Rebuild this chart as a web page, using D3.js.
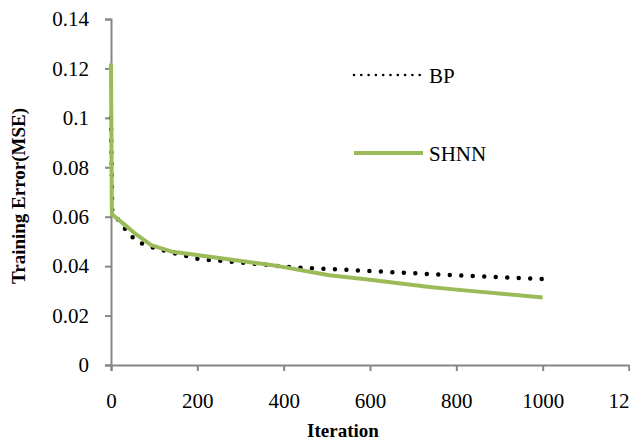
<!DOCTYPE html>
<html lang="en">
  <head>
    <meta charset="UTF-8" />
    <title>Training Error - BP vs SHNN</title>
    <script src="https://d3js.org/d3.v7.min.js"></script>
    <style>
      body { margin: 0; background: #fff; }
      svg text { font-family: "Liberation Serif", "Times New Roman", Times, serif; fill: #000; }
    </style>
  </head>
  <body>
    <svg id="chart" width="630" height="441"></svg>

    <script>
      // values
      const bpIter = [0, 3, 36, 55, 78, 128, 205, 313, 421, 525, 738, 1000];
      const bpErr = [0.1, 0.062, 0.0543, 0.0508, 0.0485, 0.046, 0.0428, 0.0413, 0.0395, 0.0387, 0.0368, 0.0348];

      const shnnIter = [0, 2, 30, 55, 93, 143, 259, 374, 506, 600, 738, 800, 1000];
      const shnnErr = [0.122, 0.061, 0.057, 0.0533, 0.0485, 0.0458, 0.0431, 0.0404, 0.0363, 0.0345, 0.0316, 0.0305, 0.0273];

      const xTicks = [0, 200, 400, 600, 800, 1000, 1200];
      const yTicks = [0, 0.02, 0.04, 0.06, 0.08, 0.1, 0.12, 0.14];

      const svg = d3.select("#chart");
      const axisColor = "#868686";
      const green = "#9BBB59";
      const serif = "Liberation Serif";

      const x = d3.scaleLinear().domain([0, 1200]).range([111, 629]);
      const y = d3.scaleLinear().domain([0, 0.14]).range([365, 19]);

      // axes
      const xAxis = svg.append("g")
        .attr("transform", `translate(0,${y(0)})`)
        .call(d3.axisBottom(x).tickValues(xTicks).tickSize(6).tickPadding(22).tickFormat(d3.format("d")));
      const yAxis = svg.append("g")
        .attr("transform", `translate(${x(0)},0)`)
        .call(d3.axisLeft(y).tickValues(yTicks).tickSize(6).tickPadding(16).tickFormat((d) => String(+d.toFixed(2))));

      [xAxis, yAxis].forEach((g) => {
        g.attr("font-family", serif).attr("font-size", 21);
        g.select(".domain").attr("stroke", axisColor).attr("stroke-width", 2);
        g.selectAll(".tick line").attr("stroke", axisColor).attr("stroke-width", 2);
        g.selectAll(".tick text").attr("fill", "#000");
      });

      const line = d3.line().x((d) => x(d[0])).y((d) => y(d[1]));

      const bp = bpIter.map((v, i) => [v, bpErr[i]]);
      const shnn = shnnIter.map((v, i) => [v, shnnErr[i]]);

      svg.append("path")
        .datum(bp)
        .attr("fill", "none")
        .attr("stroke", "#000")
        .attr("stroke-width", 4.5)
        .attr("stroke-linecap", "round")
        .attr("stroke-dasharray", "0 11.5")
        .attr("d", line);

      svg.append("path")
        .datum(shnn)
        .attr("fill", "none")
        .attr("stroke", green)
        .attr("stroke-width", 4)
        .attr("stroke-linejoin", "round")
        .attr("d", line);

      // legend
      const legend = svg.append("g").attr("font-family", serif).attr("font-size", 21);
      legend.append("line")
        .attr("x1", 354).attr("x2", 420).attr("y1", 75).attr("y2", 75)
        .attr("stroke", "#000").attr("stroke-width", 2.6)
        .attr("stroke-linecap", "round").attr("stroke-dasharray", "0 7.3");
      legend.append("text").attr("x", 429).attr("y", 83).text("BP");

      legend.append("line")
        .attr("x1", 354).attr("x2", 423).attr("y1", 153).attr("y2", 153)
        .attr("stroke", green).attr("stroke-width", 4);
      legend.append("text").attr("x", 429).attr("y", 161).text("SHNN");

      // axis titles
      svg.append("text")
        .attr("x", 343).attr("y", 437)
        .attr("text-anchor", "middle")
        .attr("font-size", 19).attr("font-weight", "bold")
        .text("Iteration");

      svg.append("text")
        .attr("transform", "translate(25,196) rotate(-90)")
        .attr("text-anchor", "middle")
        .attr("font-size", 19).attr("font-weight", "bold")
        .text("Training Error(MSE)");
    </script>
  </body>
</html>
